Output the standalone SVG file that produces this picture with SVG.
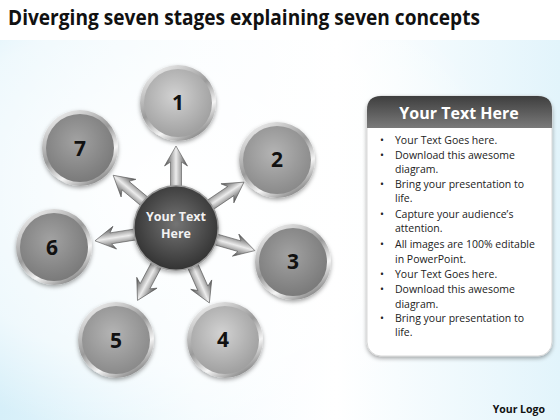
<svg xmlns="http://www.w3.org/2000/svg" width="560" height="420" viewBox="0 0 560 420">
<defs>
<linearGradient id="bgL" x1="0" y1="0" x2="1" y2="0">
<stop offset="0" stop-color="#d6eff9"/><stop offset="0.35" stop-color="#f4fbfe"/><stop offset="0.6" stop-color="#ffffff"/><stop offset="1" stop-color="#e2f4fb"/>
</linearGradient>
<radialGradient id="bgR" cx="0.3" cy="0.45" r="0.6">
<stop offset="0" stop-color="#ffffff" stop-opacity="1"/><stop offset="0.7" stop-color="#ffffff" stop-opacity="0.6"/><stop offset="1" stop-color="#ffffff" stop-opacity="0"/>
</radialGradient>
<linearGradient id="ring" x1="0.2" y1="0" x2="0.8" y2="1">
<stop offset="0" stop-color="#f2f2f2"/><stop offset="0.45" stop-color="#9a9a9a"/><stop offset="0.7" stop-color="#f5f5f5"/><stop offset="1" stop-color="#6e6e6e"/>
</linearGradient>
<radialGradient id="gLight" cx="0.45" cy="0.4" r="0.65">
<stop offset="0" stop-color="#d2d2d2"/><stop offset="1" stop-color="#9c9c9c"/>
</radialGradient>
<radialGradient id="gMid" cx="0.45" cy="0.4" r="0.65">
<stop offset="0" stop-color="#b4b4b4"/><stop offset="1" stop-color="#878787"/>
</radialGradient>
<radialGradient id="gDark" cx="0.45" cy="0.4" r="0.65">
<stop offset="0" stop-color="#a2a2a2"/><stop offset="1" stop-color="#777777"/>
</radialGradient>
<radialGradient id="gCenter" cx="0.5" cy="0.45" r="0.6">
<stop offset="0" stop-color="#747474"/><stop offset="1" stop-color="#2e2e2e"/>
</radialGradient>
<linearGradient id="arrowG" x1="0" y1="0" x2="1" y2="0">
<stop offset="0" stop-color="#4a4a4a"/><stop offset="0.5" stop-color="#ececec"/><stop offset="1" stop-color="#4a4a4a"/>
</linearGradient>
<linearGradient id="hdr" x1="0" y1="0" x2="0" y2="1">
<stop offset="0" stop-color="#3e3e3e"/><stop offset="1" stop-color="#7a7a7a"/>
</linearGradient>
<filter id="sh" x="-20%" y="-20%" width="140%" height="140%">
<feDropShadow dx="0" dy="2" stdDeviation="2" flood-color="#000" flood-opacity="0.35"/>
</filter>
<path id="arw" d="M-5.5,-30 L-5.5,-66 L-11.5,-62 L0,-82 L11.5,-62 L5.5,-66 L5.5,-30 Z"/>
</defs>
<style>
.ttl{font-family:"Open Sans","Liberation Sans",sans-serif;font-weight:700;font-size:22px;fill:#111}
.num{font-family:"Open Sans","Liberation Sans",sans-serif;font-weight:700;font-size:21px;fill:#111;text-anchor:middle}
.ctr{font-family:"Open Sans","Liberation Sans",sans-serif;font-weight:700;font-size:12.5px;fill:#f2f2f2;text-anchor:middle}
.hd{font-family:"Open Sans","Liberation Sans",sans-serif;font-weight:700;font-size:16px;fill:#fff;text-anchor:middle}
.bd{font-family:"Open Sans","Liberation Sans",sans-serif;font-size:10.5px;fill:#222}
.lg{font-family:"Open Sans","Liberation Sans",sans-serif;font-weight:700;font-size:10.5px;fill:#111;text-anchor:end}
.ring{fill:url(#ring);filter:url(#sh)}
.arr{fill:url(#arrowG);stroke:#555;stroke-width:0.6}
</style>
<rect width="560" height="420" fill="url(#bgL)"/>
<rect width="560" height="420" fill="url(#bgR)"/>
<rect width="560" height="40" fill="#ffffff"/>
<text class="ttl" x="8" y="25" textLength="472" lengthAdjust="spacingAndGlyphs">Diverging seven stages explaining seven concepts</text>

<g id="connectors">
<use href="#arw" class="arr" transform="translate(176,228) rotate(0)"/>
<use href="#arw" class="arr" transform="translate(176,228) rotate(56)"/>
<use href="#arw" class="arr" transform="translate(176,228) rotate(106)"/>
<use href="#arw" class="arr" transform="translate(176,228) rotate(156)"/>
<use href="#arw" class="arr" transform="translate(176,228) rotate(208)"/>
<use href="#arw" class="arr" transform="translate(176,228) rotate(261)"/>
<use href="#arw" class="arr" transform="translate(176,228) rotate(310)"/>
</g>

<g id="center">
<circle cx="176" cy="228" r="43" fill="#9a9a9a" filter="url(#sh)"/>
<circle cx="176" cy="228" r="41.5" fill="url(#gCenter)"/>
<text class="ctr" x="176" y="221">Your Text</text>
<text class="ctr" x="176" y="238">Here</text>
</g>

<g id="n1">
<circle class="ring" cx="178" cy="103" r="38"/>
<circle cx="178" cy="103" r="34" fill="url(#gLight)"/>
<text class="num" x="178" y="110">1</text>
</g>
<g id="n2">
<circle class="ring" cx="277" cy="160" r="38"/>
<circle cx="277" cy="160" r="34" fill="url(#gMid)"/>
<text class="num" x="277" y="167">2</text>
</g>
<g id="n3">
<circle class="ring" cx="293" cy="262" r="38"/>
<circle cx="293" cy="262" r="34" fill="url(#gDark)"/>
<text class="num" x="293" y="269">3</text>
</g>
<g id="n4">
<circle class="ring" cx="225" cy="340" r="38"/>
<circle cx="225" cy="340" r="34" fill="url(#gLight)"/>
<text class="num" x="223" y="347">4</text>
</g>
<g id="n5">
<circle class="ring" cx="116" cy="340" r="38"/>
<circle cx="116" cy="340" r="34" fill="url(#gMid)"/>
<text class="num" x="116" y="348">5</text>
</g>
<g id="n6">
<circle class="ring" cx="54" cy="247" r="38"/>
<circle cx="54" cy="247" r="34" fill="url(#gDark)"/>
<text class="num" x="52" y="255">6</text>
</g>
<g id="n7">
<circle class="ring" cx="80" cy="148" r="38"/>
<circle cx="80" cy="148" r="34" fill="url(#gDark)"/>
<text class="num" x="80" y="156">7</text>
</g>

<g id="panel">
<rect x="367" y="96" width="185" height="260" rx="14" fill="#ffffff" stroke="#cfcfcf" stroke-width="0.8" filter="url(#sh)"/>
<path d="M367,128 L367,110 Q367,96 381,96 L538,96 Q552,96 552,110 L552,128 Z" fill="url(#hdr)"/>
<text class="hd" x="459" y="119">Your Text Here</text>
<g class="bd">
<text x="380" y="144">•</text><text x="395" y="144">Your Text Goes here.</text>
<text x="380" y="159">•</text><text x="395" y="159">Download this awesome</text>
<text x="395" y="173">diagram.</text>
<text x="380" y="188">•</text><text x="395" y="188">Bring your presentation to</text>
<text x="395" y="202">life.</text>
<text x="380" y="218">•</text><text x="395" y="218">Capture your audience’s</text>
<text x="395" y="232">attention.</text>
<text x="380" y="248">•</text><text x="395" y="248">All images are 100% editable</text>
<text x="395" y="263">in PowerPoint.</text>
<text x="380" y="278">•</text><text x="395" y="278">Your Text Goes here.</text>
<text x="380" y="293">•</text><text x="395" y="293">Download this awesome</text>
<text x="395" y="308">diagram.</text>
<text x="380" y="322">•</text><text x="395" y="322">Bring your presentation to</text>
<text x="395" y="336">life.</text>
</g>
</g>
<text class="lg" x="545" y="413">Your Logo</text>
</svg>
